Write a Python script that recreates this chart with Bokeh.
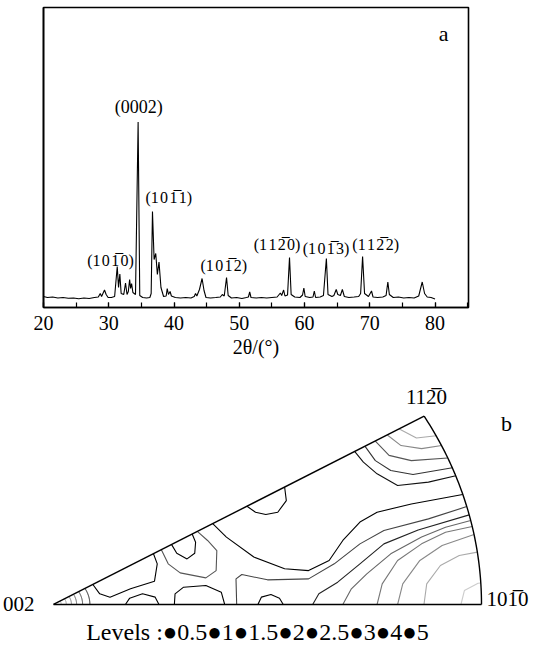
import numpy as np
from bokeh.plotting import figure
from bokeh.models import Range1d, SingleIntervalTicker, FixedTicker, Label
from bokeh.core.properties import value
from bokeh.embed import file_html
from bokeh.resources import INLINE

FONT = "Liberation Serif"
OL = "\u0305"
HS = "\u200a"

# ---------------- panel a : XRD pattern ----------------
two_theta = [20.0, 20.6, 21.4, 22.2, 23.0, 23.8, 24.6, 25.4, 26.2, 27.0, 27.8, 28.4, 28.7, 28.9,
             29.35, 29.6, 29.9, 30.4, 30.9, 31.3, 31.5, 31.7, 31.9, 32.3, 32.57, 32.8, 33.0, 33.2,
             33.35, 33.5, 33.7, 34.1, 34.5, 34.75, 35.2, 35.8, 36.3, 36.5, 36.7, 36.95, 37.2, 37.45,
             37.7, 38.0, 38.4, 38.8, 38.96, 39.15, 39.4, 39.6, 40.2, 41.0, 41.8, 42.6, 43.1, 43.3,
             43.5, 43.9, 44.3, 44.6, 44.9, 45.6, 46.4, 47.1, 47.4, 47.7, 48.05, 48.3, 48.8, 49.6,
             50.4, 51.1, 51.4, 51.6, 51.8, 52.6, 53.4, 54.2, 55.0, 55.8, 56.3, 56.5, 56.8, 57.0,
             57.4, 57.7, 57.95, 58.5, 59.3, 59.7, 59.9, 60.1, 60.8, 61.3, 61.5, 61.7, 62.4, 62.9,
             63.35, 63.6, 64.2, 64.5, 64.86, 65.1, 65.5, 65.8, 66.1, 66.8, 67.6, 68.3, 68.6, 68.9,
             69.2, 69.8, 70.27, 70.5, 71.2, 72.0, 72.5, 72.77, 73.0, 73.6, 74.4, 75.2, 76.0, 76.8,
             77.5, 78.04, 78.4, 78.8, 79.4, 80.0]
intensity = [110, 100, 105, 95, 100, 92, 95, 88, 95, 90, 100, 105, 140, 110,
             175, 130, 100, 100, 110, 410, 200, 335, 140, 130, 245, 130, 160, 280,
             190, 240, 150, 130, 1855, 120, 100, 95, 100, 140, 960, 480, 540, 330,
             455, 200, 110, 115, 190, 130, 160, 115, 100, 95, 100, 95, 110, 140,
             115, 180, 290, 170, 100, 95, 100, 105, 130, 115, 300, 120, 95, 100,
             90, 100, 105, 155, 100, 95, 100, 95, 100, 105, 145, 120, 175, 115,
             125, 500, 130, 105, 100, 125, 195, 110, 100, 105, 165, 100, 105, 120,
             490, 130, 110, 120, 180, 130, 120, 180, 110, 100, 105, 110, 140, 510,
             140, 110, 165, 105, 100, 105, 120, 255, 130, 100, 105, 95, 100, 95,
             115, 255, 140, 105, 100, 85]


def spaced(s):
    return HS.join(s)


peak_labels = ["(" + spaced("10") + HS + "1" + OL + HS + "0)", "(0002)",
               "(" + spaced("10") + HS + "1" + OL + HS + "1)",
               "(" + spaced("10") + HS + "1" + OL + HS + "2)",
               "(" + spaced("11") + HS + "2" + OL + HS + "0)",
               "(" + spaced("10") + HS + "1" + OL + HS + "3)",
               "(" + spaced("11") + HS + "2" + OL + HS + "2)"]
peak_label_x = [30.27, 34.6, 39.2, 47.64, 55.8, 63.3, 70.9]
peak_label_y = [470, 2003, 1103, 420, 627, 587, 627]
peak_label_size = ["16px", "18px", "16px", "16px", "16px", "16px", "16px"]

x_ticks_interval = 10

p1 = figure(width=533, height=370, x_range=Range1d(20, 85.13), y_range=Range1d(0, 3000),
            output_backend="svg", toolbar_location=None,
            min_border_left=43, min_border_right=65, min_border_top=7, min_border_bottom=63)
p1.line(two_theta, intensity, line_color="black", line_width=1.1)
p1.text(x=peak_label_x, y=peak_label_y, text=peak_labels, text_font=value(FONT),
        text_font_size=peak_label_size, text_align="center", text_baseline="middle",
        text_color="black")
p1.text(x=[81.3], y=[2740], text=["a"], text_font=value(FONT), text_font_size="22px",
        text_align="center", text_baseline="middle", text_color="black")
p1.grid.visible = False
p1.outline_line_color = "black"
p1.outline_line_width = 1.6
p1.outline_line_alpha = 1.0
p1.background_fill_color = "white"
p1.border_fill_color = "white"

xa = p1.xaxis[0]
xa.ticker = SingleIntervalTicker(interval=x_ticks_interval, num_minor_ticks=2)
xa.major_tick_in = 5
xa.major_tick_out = 0
xa.minor_tick_in = 5
xa.minor_tick_out = 0
xa.major_tick_line_color = "black"
xa.minor_tick_line_color = "black"
xa.major_tick_line_width = 1.2
xa.minor_tick_line_width = 1.2
xa.axis_line_color = "black"
xa.axis_line_width = 1.6
xa.major_label_text_font = FONT
xa.major_label_text_font_size = "20px"
xa.major_label_text_color = "black"
xa.major_label_standoff = 8
xa.axis_label = "2θ/(°)"
xa.axis_label_text_font = FONT
xa.axis_label_text_font_size = "20px"
xa.axis_label_text_font_style = "normal"
xa.axis_label_text_color = "black"
xa.axis_label_standoff = 3

ya = p1.yaxis[0]
ya.ticker = FixedTicker(ticks=[])
ya.axis_line_color = "black"
ya.axis_line_width = 1.6

p1.add_layout(Label(x=17.3, y=1340, text="Intensity/a.u.", angle=np.pi / 2,
                    text_font=FONT, text_font_size="21px", text_color="black",
                    text_align="center", text_baseline="middle"))

# ---------------- panel b : inverse pole figure ----------------
corner_angle_deg = 30.0

near_vertex_r = [0.018, 0.030, 0.042, 0.054, 0.068, 0.085]
near_vertex_col = ["#bbbbbb", "#999999", "#777777", "#555555", "#333333", "#111111"]

g1_x = [0.808, 0.848, 0.894]
g1_y = [0.466, 0.442, 0.448]
g2_x = [0.780, 0.812, 0.860, 0.907]
g2_y = [0.450, 0.422, 0.414, 0.422]
g3_x = [0.752, 0.784, 0.836, 0.921]
g3_y = [0.434, 0.396, 0.382, 0.389]
g4_x = [0.728, 0.752, 0.788, 0.840, 0.932]
g4_y = [0.420, 0.382, 0.356, 0.345, 0.363]
g5_x = [0.704, 0.724, 0.756, 0.804, 0.876, 0.940]
g5_y = [0.406, 0.378, 0.347, 0.316, 0.325, 0.342]
m1_x = [0.956, 0.836, 0.756, 0.716, 0.676, 0.644, 0.596, 0.540, 0.468, 0.404, 0.372]
m1_y = [0.292, 0.267, 0.245, 0.219, 0.170, 0.117, 0.090, 0.095, 0.126, 0.179, 0.215]
m2_x = [0.452, 0.472, 0.496, 0.524, 0.544, 0.540]
m2_y = [0.261, 0.245, 0.239, 0.245, 0.276, 0.312]
m0_x = [0.428, 0.4264, 0.440, 0.500, 0.596, 0.656, 0.716, 0.772, 0.876, 0.9656]
m0_y = [0.0, 0.068, 0.0796, 0.0655, 0.068, 0.108, 0.161, 0.1965, 0.2274, 0.260]
r5_x = [0.6056, 0.620, 0.664, 0.716, 0.772, 0.852, 0.9713]
r5_y = [0.0, 0.0283, 0.0593, 0.108, 0.161, 0.198, 0.238]
r4_x = [0.676, 0.696, 0.732, 0.788, 0.860, 0.916, 0.9748]
r4_y = [0.0, 0.0416, 0.0814, 0.1345, 0.179, 0.205, 0.223]
r3_x = [0.756, 0.768, 0.804, 0.860, 0.916, 0.9783]
r3_y = [0.0, 0.0549, 0.117, 0.161, 0.192, 0.207]
r2_x = [0.804, 0.816, 0.856, 0.908, 0.9826]
r2_y = [0.0, 0.0549, 0.117, 0.1566, 0.1858]
r1_x = [0.8656, 0.872, 0.904, 0.948, 0.9903]
r1_y = [0.0, 0.0549, 0.1035, 0.130, 0.139]
r0_x = [0.952, 0.960, 0.992, 0.9984]
r0_y = [0.0, 0.037, 0.0566, 0.057]
l1_x = [0.092, 0.108, 0.132, 0.180, 0.236, 0.2424, 0.2336]
l1_y = [0.0531, 0.0283, 0.0195, 0.0416, 0.062, 0.108, 0.1349]
l2_x = [0.252, 0.268, 0.296, 0.356, 0.380, 0.3816, 0.360, 0.336]
l2_y = [0.1455, 0.108, 0.084, 0.0708, 0.090, 0.143, 0.170, 0.194]
l3_x = [0.276, 0.288, 0.312, 0.330, 0.332, 0.324]
l3_y = [0.159, 0.136, 0.121, 0.136, 0.1655, 0.187]
b1_x = [0.168, 0.178, 0.208, 0.2376, 0.2464]
b1_y = [0.0, 0.0168, 0.0283, 0.0195, 0.0]
b2_x = [0.2824, 0.284, 0.304, 0.356, 0.392, 0.400]
b2_y = [0.0, 0.0283, 0.046, 0.0504, 0.0327, 0.0]
b3_x = [0.4776, 0.4856, 0.508, 0.528, 0.5368]
b3_y = [0.0, 0.0195, 0.0265, 0.0168, 0.0]

contour_xs = [g1_x, g2_x, g3_x, g4_x, g5_x, m1_x, m2_x, m0_x, r5_x, r4_x, r3_x, r2_x, r1_x,
              r0_x, l1_x, l2_x, l3_x, b1_x, b2_x, b3_x]
contour_ys = [g1_y, g2_y, g3_y, g4_y, g5_y, m1_y, m2_y, m0_y, r5_y, r4_y, r3_y, r2_y, r1_y,
              r0_y, l1_y, l2_y, l3_y, b1_y, b2_y, b3_y]
contour_cols = ["#aaaaaa", "#888888", "#555555", "#333333", "#111111", "#000000", "#000000",
                "#444444", "#222222", "#666666", "#777777", "#888888", "#aaaaaa", "#cccccc",
                "#000000", "#555555", "#000000", "#000000", "#000000", "#000000"]

p2 = figure(width=533, height=278, x_range=Range1d(-0.12383, 1.12150),
            y_range=Range1d(-0.11684, 0.62135), output_backend="svg", toolbar_location=None,
            x_axis_location=None, y_axis_location=None, min_border=0)
p2.grid.visible = False
p2.outline_line_color = None
p2.background_fill_color = "white"
p2.border_fill_color = "white"

ang = np.radians(np.linspace(0, corner_angle_deg, 60))
nv_xs = [list(r * np.cos(ang)) for r in near_vertex_r]
nv_ys = [list(r * np.sin(ang)) for r in near_vertex_r]
p2.multi_line(xs=nv_xs, ys=nv_ys, line_color=near_vertex_col, line_width=1)
p2.multi_line(xs=contour_xs, ys=contour_ys, line_color=contour_cols, line_width=1.1)

# triangle outline
ca = np.radians(corner_angle_deg)
p2.line([0, 1], [0, 0], line_color="black", line_width=1.4)
p2.line([0, np.cos(ca)], [0, np.sin(ca)], line_color="black", line_width=1.4)
p2.line(list(np.cos(ang)), list(np.sin(ang)), line_color="black", line_width=1.4)

p2.text(x=[0.8715], y=[0.5497], text=["112" + OL + "0"], text_font=value(FONT),
        text_font_size="21px", text_align="center", text_baseline="middle", text_color="black")
p2.text(x=[1.0584], y=[0.4806], text=["b"], text_font=value(FONT),
        text_font_size="22px", text_align="center", text_baseline="middle", text_color="black")
p2.text(x=[-0.0444], y=[0.0], text=["002"], text_font=value(FONT),
        text_font_size="21px", text_align="right", text_baseline="middle", text_color="black")
p2.text(x=[1.0117], y=[0.0159], text=["101" + OL + "0"], text_font=value(FONT),
        text_font_size="21px", text_align="left", text_baseline="middle", text_color="black")
p2.text(x=[0.4766], y=[-0.0743], text=["Levels :●0.5●1●1.5●2●2.5●3●4●5"], text_font=value(FONT),
        text_font_size="24px", text_align="center", text_baseline="middle", text_color="black")

open("out.html", "w").write(file_html([p1, p2], INLINE))
